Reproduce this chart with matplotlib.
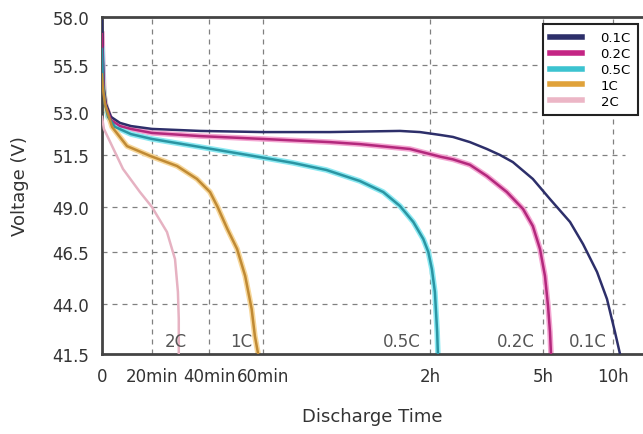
import numpy as np
import matplotlib.pyplot as plt

plt.rcParams['font.family'] = ['DejaVu Sans']

# axis tick values (the original axes are not linear)
x_tick_hours = [0, 1/3, 2/3, 1, 2, 5, 10]
x_tick_labels = ['0', '20min', '40min', '60min', '2h', '5h', '10h']
y_tick_volts = [41.5, 44.0, 46.5, 49.0, 51.5, 53.0, 55.5, 58.0]
y_tick_labels = ['41.5', '44.0', '46.5', '49.0', '51.5', '53.0', '55.5', '58.0']

# where those ticks sit along each axis (relative spacing)
x_nodes_h = [0, 1/3, 2/3, 1, 2, 5, 10, 12.14]
x_nodes_pos = [0, 50, 107, 161, 328, 441, 511, 541]
y_nodes_v = y_tick_volts
y_nodes_pos = [0, 50, 102, 147, 199, 242, 289, 337]

# discharge curves: time in hours, voltage in V
t_01c = [0, 0.0067, 0.0133, 0.0267, 0.06, 0.12, 0.193, 0.333, 0.614, 1.0, 1.40, 1.82,
         1.94, 2.27, 2.61, 3.06, 3.51, 3.86, 4.20, 4.73, 5.5, 6.93, 7.86, 8.86, 9.57,
         10.14, 10.5]
v_01c = [57.79, 55.81, 54.22, 53.43, 52.83, 52.62, 52.51, 52.41, 52.34, 52.30, 52.30, 52.34,
         52.30, 52.20, 52.13, 51.95, 51.71, 51.5, 51.16, 50.35, 49.38, 48.17, 46.94, 45.54,
         44.24, 42.6, 41.5]

t_02c = [0, 0.0067, 0.0133, 0.0267, 0.06, 0.12, 0.193, 0.333, 0.614, 1.0, 1.40, 1.58,
         1.88, 2.27, 2.61, 3.06, 3.51, 4.04, 4.47, 4.73, 4.92, 5.14, 5.36, 5.5, 5.57]
v_02c = [57.11, 55.29, 53.96, 53.27, 52.72, 52.51, 52.41, 52.27, 52.16, 52.06, 51.95, 51.88,
         51.71, 51.42, 51.29, 51.03, 50.49, 49.72, 48.89, 47.94, 46.67, 45.35, 43.9, 42.6,
         41.5]

t_05c = [0, 0.0067, 0.02, 0.04, 0.087, 0.193, 0.333, 0.614, 0.981, 1.18, 1.38, 1.58,
         1.72, 1.82, 1.90, 1.96, 1.99, 2.05, 2.13, 2.19, 2.21]
v_05c = [56.33, 54.49, 53.43, 52.83, 52.48, 52.23, 52.06, 51.78, 51.40, 51.12, 50.78, 50.25,
         49.72, 49.05, 48.17, 47.22, 46.5, 45.68, 44.58, 42.6, 41.5]

t_1c = [0, 0.0067, 0.02, 0.067, 0.167, 0.32, 0.48, 0.596, 0.673, 0.72, 0.78, 0.84,
        0.89, 0.93, 0.95, 0.97]
v_1c = [55.0, 54.22, 53.43, 52.48, 51.81, 51.46, 50.97, 50.35, 49.72, 49.0, 47.78, 46.67,
        45.35, 43.75, 42.4, 41.5]

t_2c = [0, 0.013, 0.14, 0.253, 0.333, 0.421, 0.468, 0.485, 0.49, 0.49]
v_2c = [52.83, 52.41, 50.83, 49.72, 49.0, 47.61, 46.16, 44.58, 43.25, 41.5]

series_names = ['0.1C', '0.2C', '0.5C', '1C', '2C']
end_label_hours = [8.2, 4.28, 1.83, 0.864, 0.474]


def fwd_x(t):
    return np.interp(t, x_nodes_h, x_nodes_pos)


def inv_x(p):
    return np.interp(p, x_nodes_pos, x_nodes_h)


def fwd_y(v):
    return np.interp(v, y_nodes_v, y_nodes_pos)


def inv_y(p):
    return np.interp(p, y_nodes_pos, y_nodes_v)


fig = plt.figure(figsize=(6.43, 4.35), dpi=100)
ax = fig.add_axes([0.1586, 0.1839, 0.8414, 0.7747])
ax.set_xscale('function', functions=(fwd_x, inv_x))
ax.set_yscale('function', functions=(fwd_y, inv_y))

# (core colour, halo colour, legend colour)
styles = [('#2d2f6a', None, '#2d2f6a'),
          ('#b3287c', '#f4a6d2', '#c42584'),
          ('#2a95a3', '#8be9f2', '#3cc3d0'),
          ('#c08a34', '#f7d79a', '#e0a23a'),
          ('#e6b2c2', None, '#ecb6c6')]
curves = [(t_01c, v_01c), (t_02c, v_02c), (t_05c, v_05c), (t_1c, v_1c), (t_2c, v_2c)]

for (t, v), name, (core, halo, leg) in zip(curves, series_names, styles):
    if halo:
        ax.plot(t, v, color=halo, lw=4, solid_joinstyle='round', zorder=2)
    ax.plot(t, v, color=core, lw=1.8, solid_joinstyle='round', zorder=3)
    ax.plot([], [], color=leg, lw=4, label=name)

for name, th in zip(series_names, end_label_hours):
    ax.text(th, 41.7, name, fontsize=12, color='#555555', ha='center', va='bottom')

ax.set_xlim(0, 12.14)
ax.set_ylim(41.5, 58.0)
ax.set_xticks(x_tick_hours)
ax.set_xticklabels(x_tick_labels)
ax.set_yticks(y_tick_volts)
ax.set_yticklabels(y_tick_labels)
ax.tick_params(length=0, labelsize=12, labelcolor='#333333')
ax.tick_params(axis='y', pad=9)
ax.tick_params(axis='x', pad=9)
ax.minorticks_off()

grid_style = dict(color='#808080', ls=(0, (4, 4)), lw=0.9, zorder=1)
ax.grid(True, axis='x', **grid_style)
for v in y_tick_volts[1:-1]:
    ax.axhline(v, xmax=0.967, **grid_style)

for s in ['left', 'bottom', 'top']:
    ax.spines[s].set_linewidth(2)
    ax.spines[s].set_color('#444444')
ax.spines['right'].set_visible(False)

ax.set_ylabel('Voltage (V)', fontsize=13, color='#333333', labelpad=17)
ax.set_xlabel('Discharge Time', fontsize=13, color='#333333', labelpad=16)

leg = ax.legend(loc='upper right', bbox_to_anchor=(0.991, 0.979), borderaxespad=0,
                fontsize=9.5, frameon=True, fancybox=False, handlelength=2.4,
                handletextpad=1.4, labelspacing=0.22, borderpad=0.55, framealpha=1)
leg.get_frame().set_edgecolor('#222222')
leg.get_frame().set_linewidth(1.5)

fig.savefig('out.png', dpi=100)
